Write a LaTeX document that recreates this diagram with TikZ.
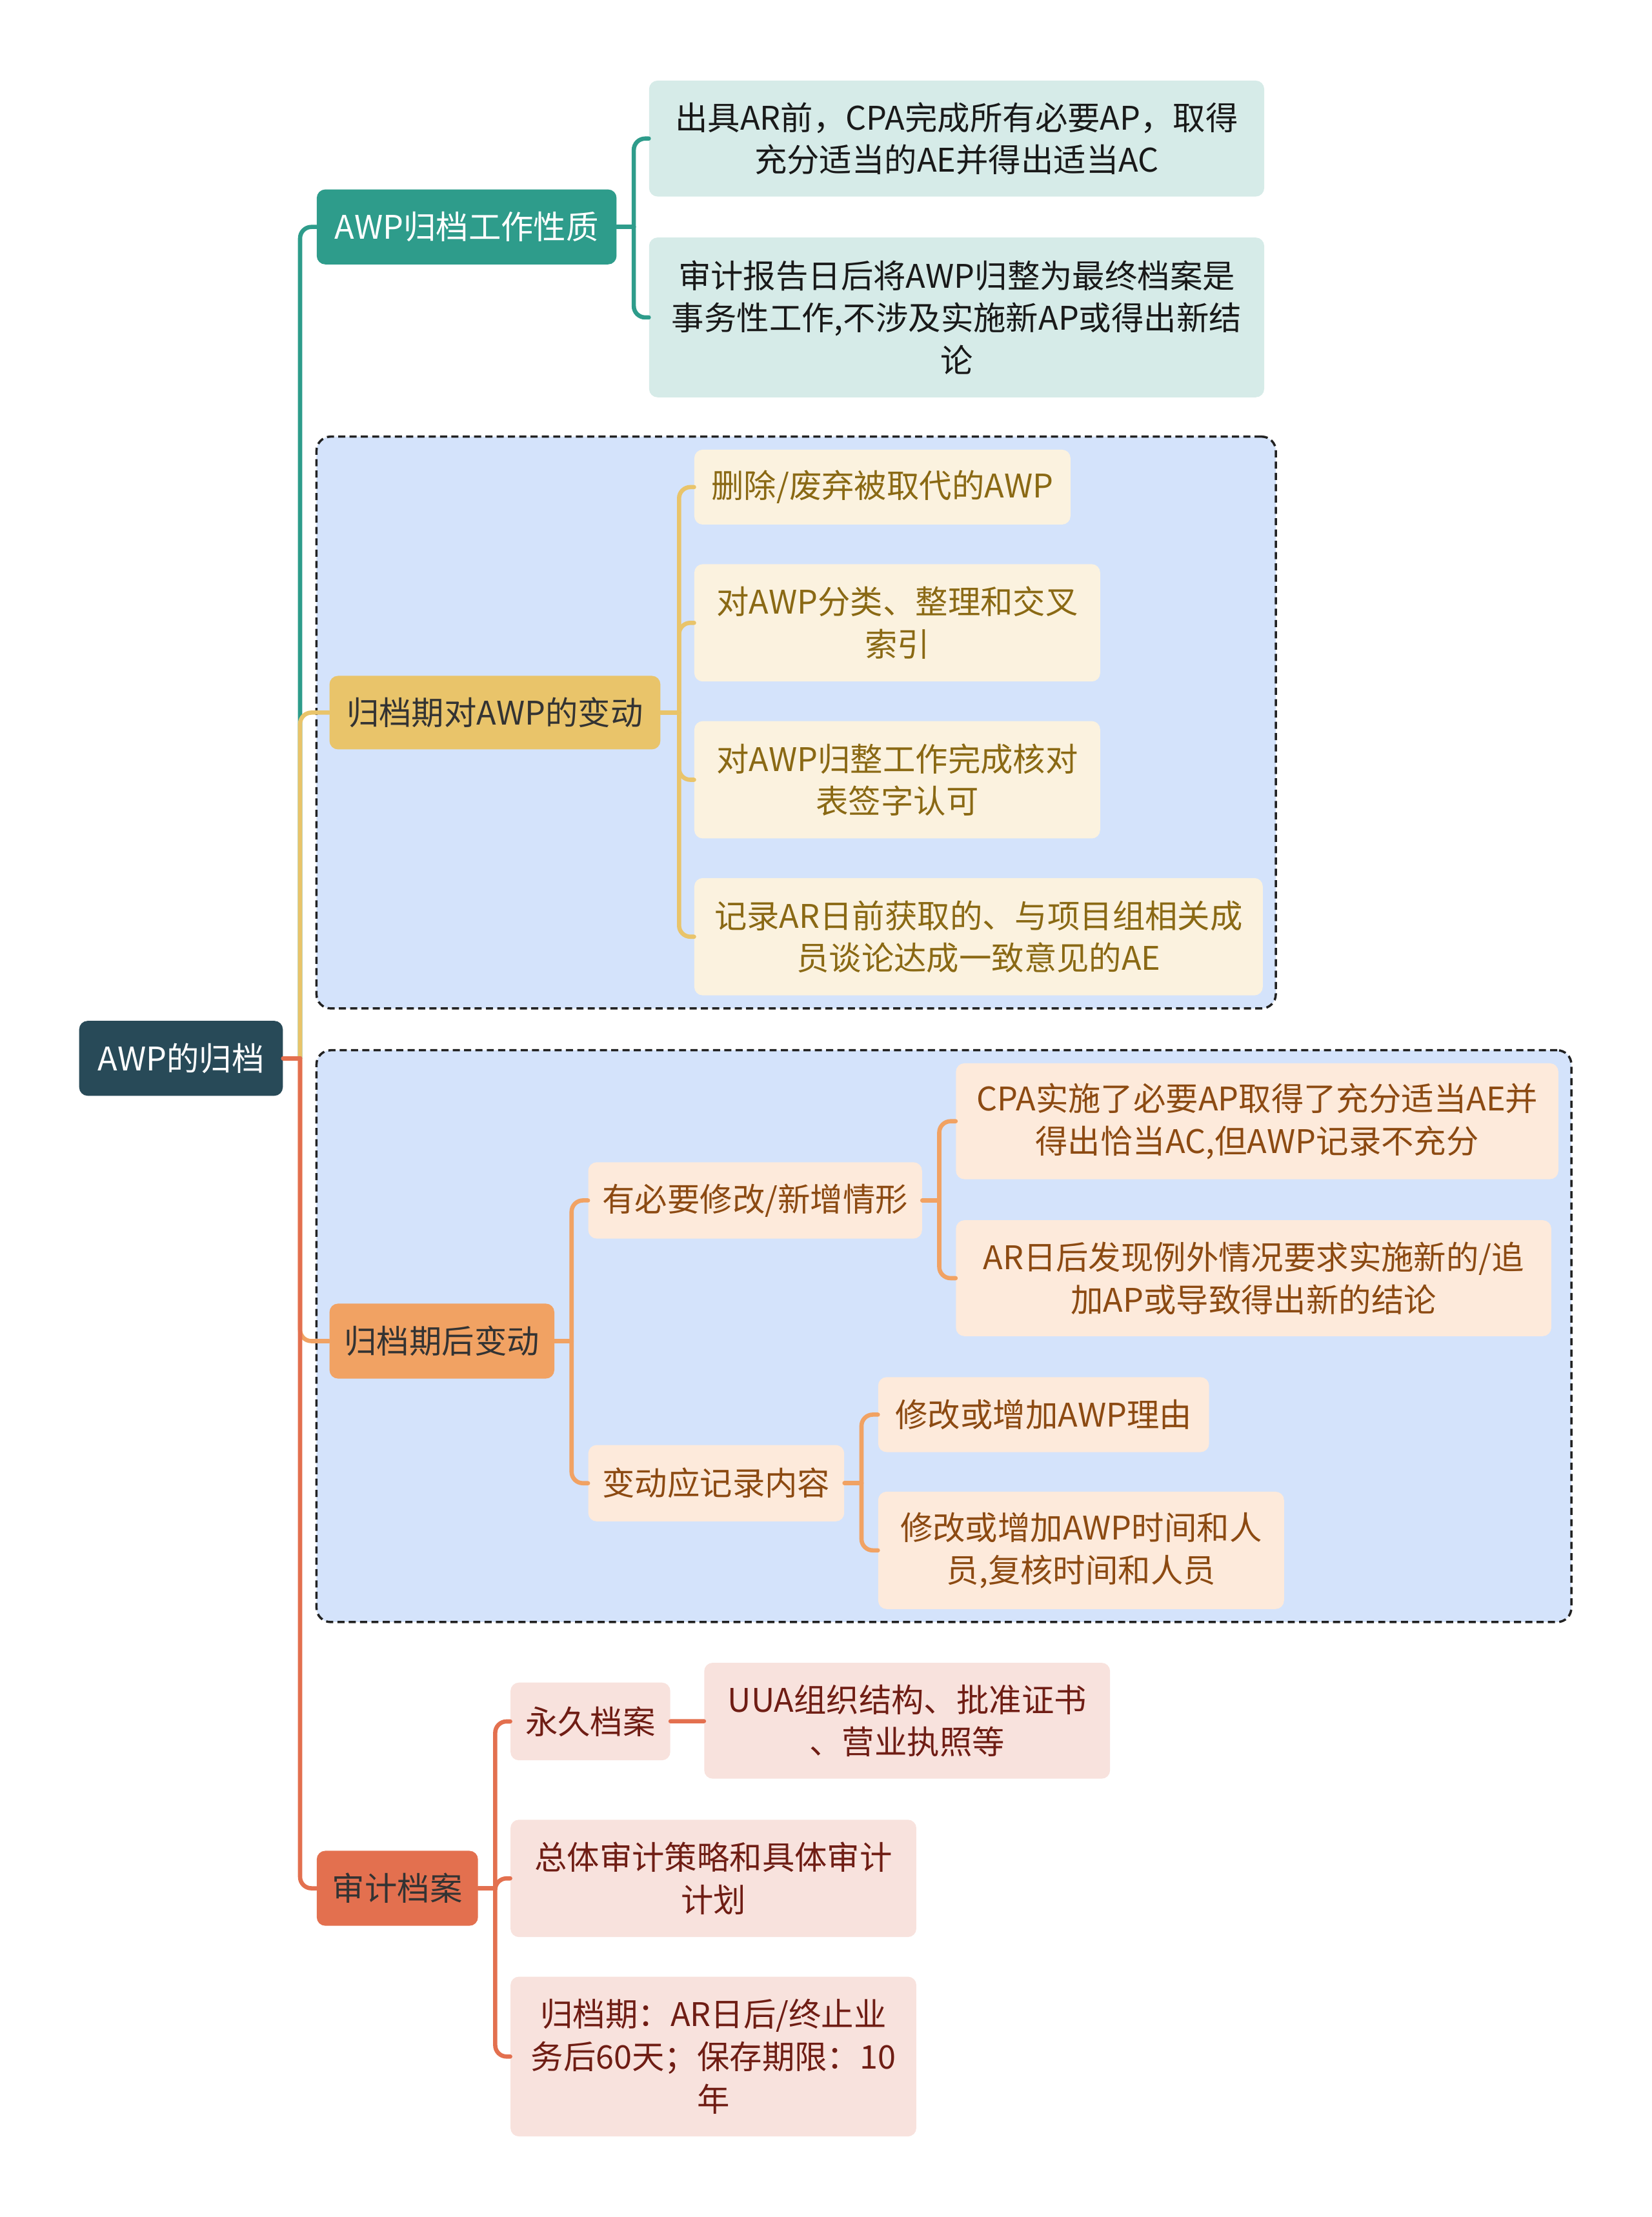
\documentclass[tikz,border=0pt]{standalone}
\usepackage{fontspec}
\setmainfont{Noto Sans CJK SC}
\usepackage{tikz}
\usetikzlibrary{positioning,fit,backgrounds}
\usepackage{xcolor}
\definecolor{rootc}{HTML}{284A58}
\definecolor{tealc}{HTML}{2E9C8B}
\definecolor{tealfill}{HTML}{D6EBE8}
\definecolor{goldc}{HTML}{E9C46A}
\definecolor{goldfill}{HTML}{FBF2DF}
\definecolor{goldtext}{HTML}{8A6914}
\definecolor{orngc}{HTML}{F1A263}
\definecolor{orngfill}{HTML}{FDEADB}
\definecolor{orngtext}{HTML}{8C4A12}
\definecolor{coralc}{HTML}{E3704F}
\definecolor{coralfill}{HTML}{F8E2DD}
\definecolor{coraltext}{HTML}{6F1D14}
\definecolor{grpfill}{HTML}{D4E3FB}
\definecolor{grpline}{HTML}{222222}
\definecolor{darktext}{HTML}{333333}

\begin{document}
\begin{tikzpicture}[x=1pt,y=-1pt,line cap=round,font=\fontsize{23}{30}\selectfont,
  box/.style={rounded corners=6pt,inner sep=0pt,align=center},
  sz/.style 2 args={minimum width=#1,minimum height=#2},
  rootbox/.style={box,fill=rootc,text=white},
  tealbox/.style={box,fill=tealc,text=white},
  tealitem/.style={box,fill=tealfill,text=black!90},
  goldbox/.style={box,fill=goldc,text=darktext},
  golditem/.style={box,fill=goldfill,text=goldtext},
  orngbox/.style={box,fill=orngc,text=darktext},
  orngitem/.style={box,fill=orngfill,text=orngtext},
  coralbox/.style={box,fill=coralc,text=darktext},
  coralitem/.style={box,fill=coralfill,text=coraltext},
  link/.style={line width=3pt,rounded corners=8pt},
  grp/.style={draw=grpline,fill=grpfill,line width=1.6pt,dash pattern=on 5pt off 3pt,rounded corners=10pt,inner sep=9pt}]
\useasboundingbox (0,0) rectangle (1168,1568);

\node[rootbox,sz={144}{53}] (root) at (128,748.5) {AWP的归档};

\node[tealbox,sz={212}{53}] (b1) at (330,160.5) {AWP归档工作性质};
\node[tealitem,sz={435}{82}] (c11) at (676.5,98) {出具AR前，CPA完成所有必要AP，取得\\充分适当的AE并得出适当AC};
\node[tealitem,sz={435}{113}] (c12) at (676.5,224.5) {审计报告日后将AWP归整为最终档案是\\事务性工作,不涉及实施新AP或得出新结\\论};

\node[goldbox,sz={234}{52}] (b2) at (350,504) {归档期对AWP的变动};
\node[golditem,sz={266}{53}] (c21) at (624,344.5) {删除/废弃被取代的AWP};
\node[golditem,sz={287}{83}] (c22) at (634.5,440.5) {对AWP分类、整理和交叉\\索引};
\node[golditem,sz={287}{83}] (c23) at (634.5,551.5) {对AWP归整工作完成核对\\表签字认可};
\node[golditem,sz={402}{83}] (c24) at (692,662.5) {记录AR日前获取的、与项目组相关成\\员谈论达成一致意见的AE};

\node[orngbox,sz={159}{53}] (b3) at (312.5,948.5) {归档期后变动};
\node[orngitem,sz={236}{54}] (c31) at (534,849) {有必要修改/新增情形};
\node[orngitem,sz={426}{82}] (d311) at (889,793) {CPA实施了必要AP取得了充分适当AE并\\得出恰当AC,但AWP记录不充分};
\node[orngitem,sz={421}{82}] (d312) at (886.5,904) {AR日后发现例外情况要求实施新的/追\\加AP或导致得出新的结论};
\node[orngitem,sz={181}{54}] (c32) at (506.5,1049) {变动应记录内容};
\node[orngitem,sz={234}{53}] (d321) at (738,1000.5) {修改或增加AWP理由};
\node[orngitem,sz={287}{83}] (d322) at (764.5,1096.5) {修改或增加AWP时间和人\\员,复核时间和人员};

\node[coralbox,sz={114}{53}] (b4) at (281,1335.5) {审计档案};
\node[coralitem,sz={113}{55}] (c41) at (417.5,1217.5) {永久档案};
\node[coralitem,sz={287}{82}] (d411) at (641.5,1217) {UUA组织结构、批准证书\\、营业执照等};
\node[coralitem,sz={287}{83}] (c42) at (504.5,1328.5) {总体审计策略和具体审计\\计划};
\node[coralitem,sz={287}{113}] (c43) at (504.5,1454.5) {归档期：AR日后/终止业\\务后60天；保存期限：10\\年};

\coordinate[right=12pt of root] (jr);
\coordinate[right=12pt of b1] (j1);
\coordinate[right=13pt of b2] (j2);
\coordinate[right=12pt of b3] (j3);
\coordinate[right=12pt of c31] (j31);
\coordinate[right=12pt of c32] (j32);
\coordinate[right=12pt of b4] (j4);

\draw[link,tealc] (jr) |- (b1.west);
\draw[link,goldc] (jr) |- (b2.west);
\draw[link,orngc] (jr) |- (b3.west);
\draw[link,coralc] (jr) |- (b4.west);
\draw[link,coralc] (root) -- (jr);

\draw[link,tealc] (b1) -- (j1);
\foreach \c in {c11,c12} \draw[link,tealc] (j1) |- (\c.west);

\draw[link,goldc] (b2) -- (j2);
\foreach \c in {c21,c22,c23,c24} \draw[link,goldc] (j2) |- (\c.west);

\draw[link,orngc] (b3) -- (j3);
\foreach \c in {c31,c32} \draw[link,orngc] (j3) |- (\c.west);
\draw[link,orngc] (c31) -- (j31);
\foreach \c in {d311,d312} \draw[link,orngc] (j31) |- (\c.west);
\draw[link,orngc] (c32) -- (j32);
\foreach \c in {d321,d322} \draw[link,orngc] (j32) |- (\c.west);

\draw[link,coralc] (b4) -- (j4);
\foreach \c in {c41,c42,c43} \draw[link,coralc] (j4) |- (\c.west);
\draw[link,coralc] (c41) -- (d411);

\begin{scope}[on background layer]
\node[grp,fit=(b2)(c21)(c24)] (g2) {};
\node[grp,fit=(b3)(d311)(d322)] (g3) {};
\end{scope}
\end{tikzpicture}
\end{document}
